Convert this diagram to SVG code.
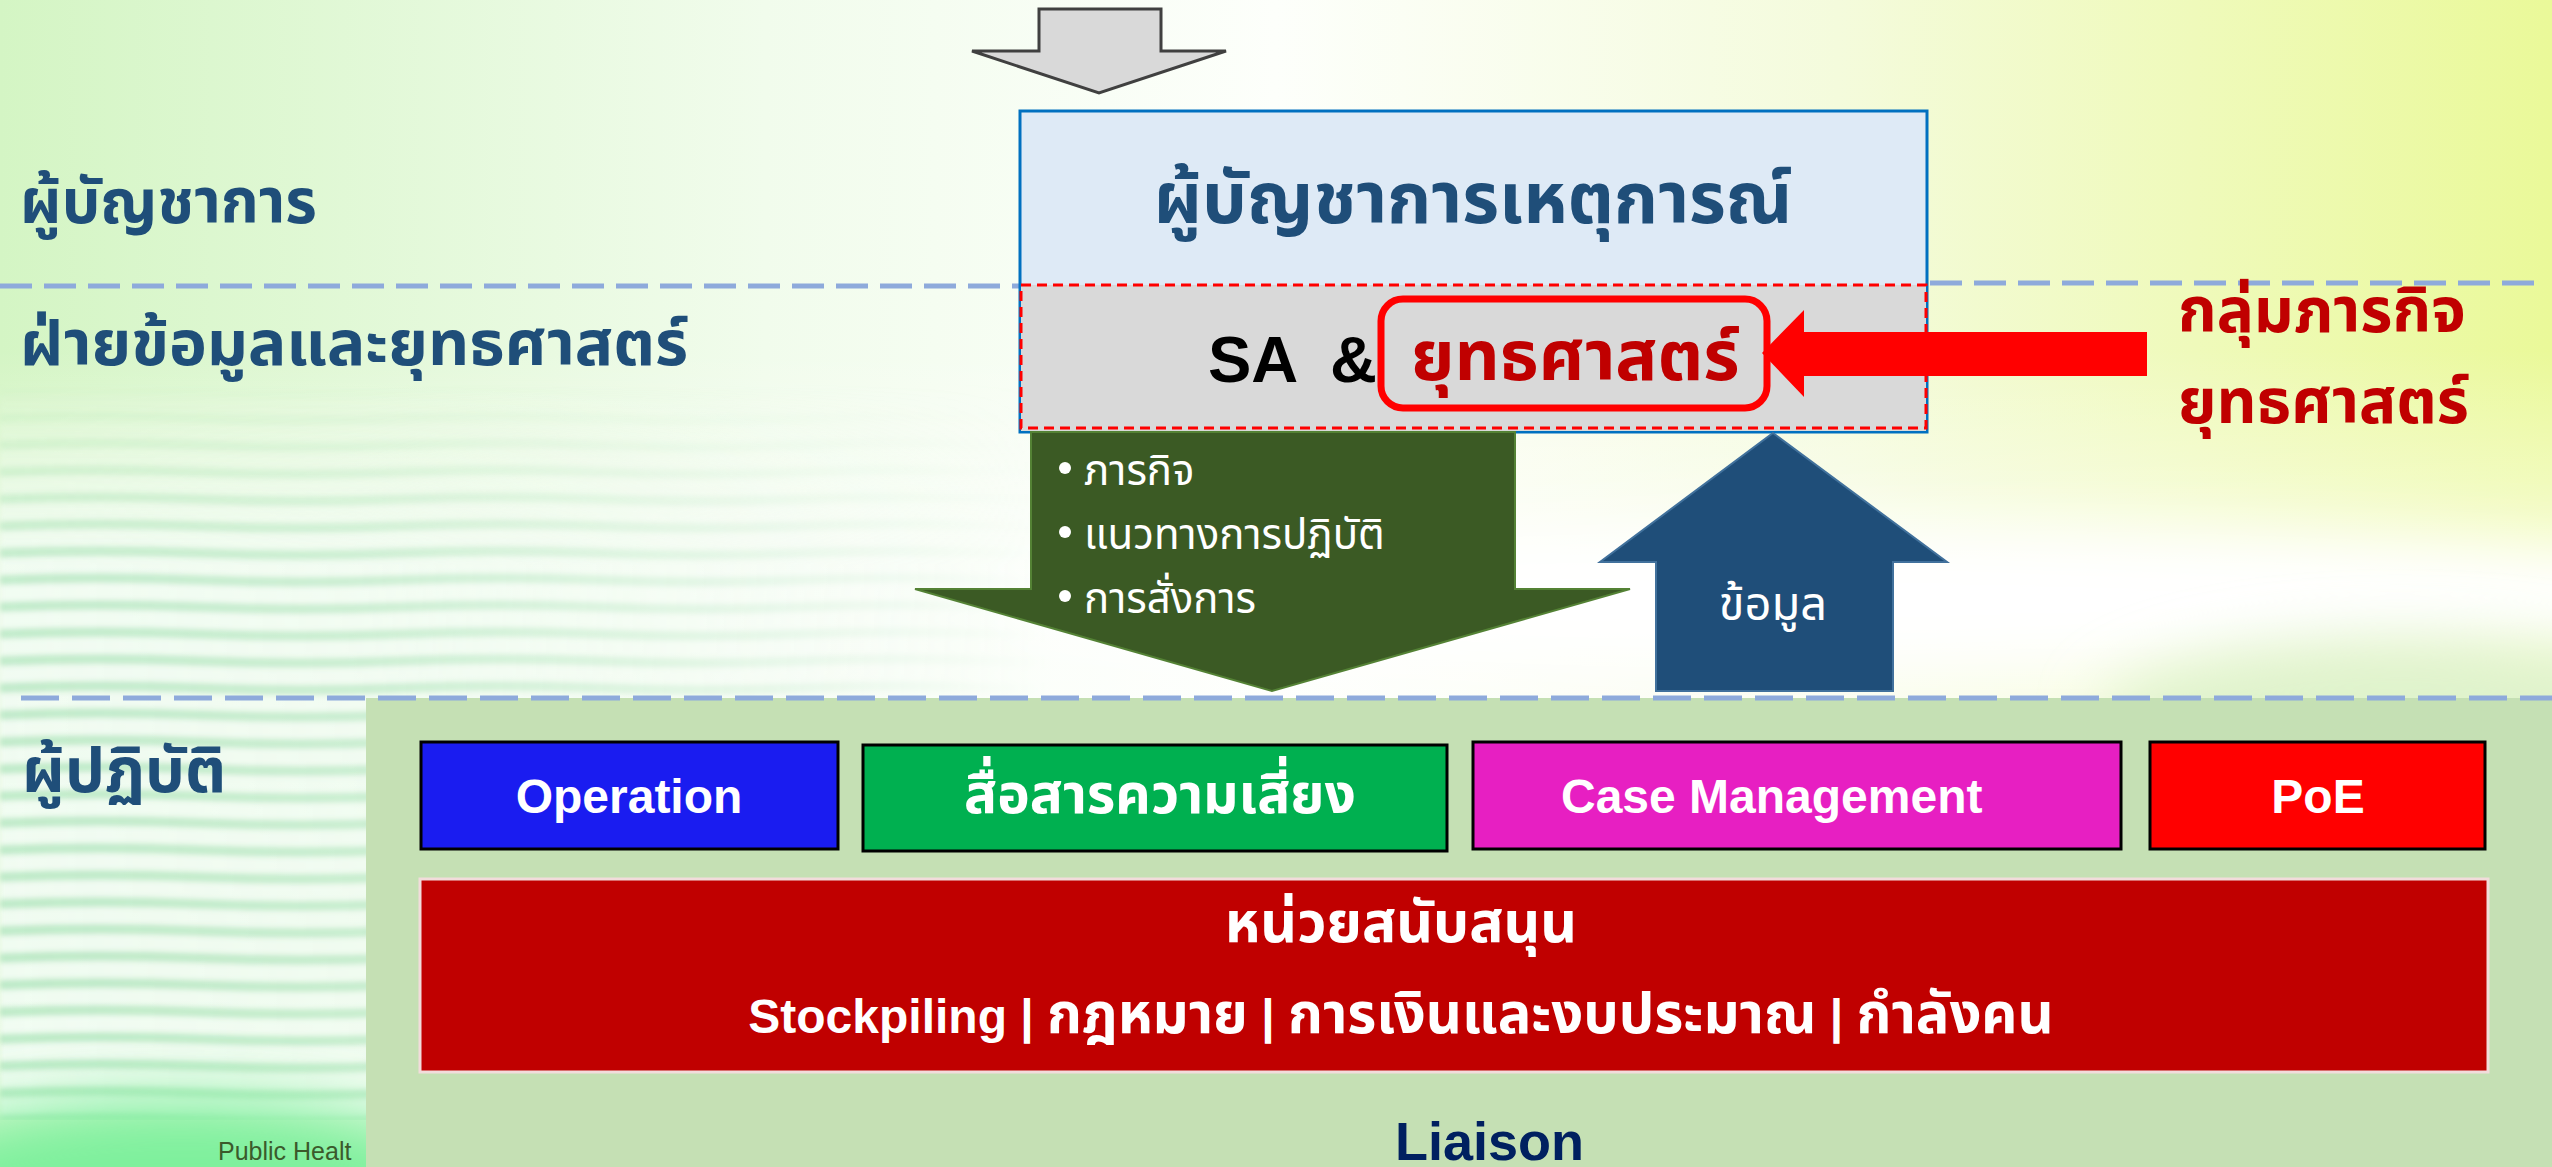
<svg xmlns="http://www.w3.org/2000/svg" width="2552" height="1167" viewBox="0 0 2552 1167">
<defs>
<style>
.th{font-family:"Noto Sans Thai","Noto Sans","Liberation Sans",sans-serif;}
.lat{font-family:"Liberation Sans","Noto Sans Thai",sans-serif;font-weight:bold;}
.lbl{font-weight:bold;fill:#1F4E79;font-size:63px;}
.box{stroke:#000;stroke-width:3;}
.wt{fill:#fff;}
.dash1{stroke:#8EAADB;stroke-width:5;stroke-dasharray:32 12;fill:none;}
.dash2{stroke:#8EAADB;stroke-width:5;stroke-dasharray:38 13;fill:none;}
</style>
<linearGradient id="bgH" x1="0" y1="0" x2="1" y2="0">
<stop offset="0" stop-color="#d4f5c4"/>
<stop offset="0.3" stop-color="#f1fcec"/>
<stop offset="0.5" stop-color="#fdfffb"/>
<stop offset="0.72" stop-color="#f4fbdc"/>
<stop offset="1" stop-color="#eaf999"/>
</linearGradient>
<linearGradient id="bgV" x1="0" y1="0" x2="0" y2="1">
<stop offset="0" stop-color="#fff" stop-opacity="0"/>
<stop offset="0.3" stop-color="#fff" stop-opacity="0"/>
<stop offset="0.5" stop-color="#fff" stop-opacity="0.6"/>
<stop offset="1" stop-color="#fff" stop-opacity="0.3"/>
</linearGradient>
<linearGradient id="fadeHg" x1="0" y1="0" x2="1" y2="0">
<stop offset="0" stop-color="#fff"/>
<stop offset="0.35" stop-color="#fff" stop-opacity="0.8"/>
<stop offset="1" stop-color="#fff" stop-opacity="0"/>
</linearGradient>
<linearGradient id="fadeVg" x1="0" y1="0" x2="0" y2="1">
<stop offset="0" stop-color="#fff" stop-opacity="0"/>
<stop offset="0.25" stop-color="#fff" stop-opacity="0.9"/>
<stop offset="1" stop-color="#fff"/>
</linearGradient>
<mask id="fadeH" maskUnits="userSpaceOnUse" x="0" y="0" width="2552" height="1167">
<rect x="0" y="380" width="1050" height="740" fill="url(#fadeHg)"/>
</mask>
<mask id="fadeV" maskUnits="userSpaceOnUse" x="0" y="0" width="2552" height="1167">
<rect x="0" y="380" width="1050" height="740" fill="url(#fadeVg)"/>
</mask>
<pattern id="stripes" x="0" y="0" width="400" height="27" patternUnits="userSpaceOnUse">
<rect x="0" y="0" width="400" height="27" fill="#f2fcf4"/>
<path d="M0,13 Q100,9 200,13 T400,13" stroke="#b9e8c6" stroke-width="10" fill="none"/>
</pattern>
<filter id="blur" x="-20%" y="-50%" width="140%" height="200%"><feGaussianBlur stdDeviation="30"/></filter>
<filter id="blur2"><feGaussianBlur stdDeviation="2.5"/></filter>
</defs>

<g id="background">
<rect x="0" y="0" width="2552" height="1167" fill="url(#bgH)"/>
<rect x="0" y="0" width="2552" height="1167" fill="url(#bgV)"/>
<ellipse cx="1900" cy="600" rx="900" ry="70" fill="#ffffff" filter="url(#blur)"/>
<ellipse cx="2400" cy="720" rx="300" ry="80" fill="#dff3cc" filter="url(#blur)"/>
<g mask="url(#fadeH)"><g mask="url(#fadeV)">
<rect x="0" y="380" width="1050" height="740" fill="url(#stripes)" filter="url(#blur2)" opacity="0.9"/>
</g></g>
<ellipse cx="180" cy="1180" rx="280" ry="80" fill="#7ef09c" filter="url(#blur)"/>
</g>

<g id="dividers">
<line class="dash1" x1="0" y1="286" x2="1020" y2="286"/>
<line class="dash1" x1="1930" y1="283" x2="2545" y2="283"/>
</g>

<g id="footer-text">
<text x="218" y="1160" font-family="Liberation Sans, sans-serif" font-size="25" fill="#3b5a2b">Public Healt</text>
</g>

<g id="operations-panel">
<rect x="366" y="698" width="2186" height="469" fill="#C5E0B4"/>
</g>
<line class="dash2" x1="21" y1="698" x2="2552" y2="698"/>

<g id="labels">
<text class="lbl th" x="20" y="223" textLength="297" lengthAdjust="spacingAndGlyphs">ผู้บัญชาการ</text>
<text class="lbl th" x="20" y="365" textLength="668" lengthAdjust="spacingAndGlyphs">ฝ่ายข้อมูลและยุทธศาสตร์</text>
<text class="lbl th" x="22" y="792">ผู้ปฏิบัติ</text>
</g>

<g id="input-arrow">
<polygon points="1039,9 1161,9 1161,51 1226,51 1099,93 972,51 1039,51" fill="#D9D9D9" stroke="#404040" stroke-width="3"/>
</g>

<g id="commander">
<rect x="1020" y="111" width="907" height="321" fill="#DEEAF6" stroke="#0070C0" stroke-width="3"/>
<text class="th" x="1473" y="223" text-anchor="middle" font-size="71" font-weight="bold" fill="#1F4E79">ผู้บัญชาการเหตุการณ์</text>
</g>

<g id="sa-strategy">
<rect x="1021" y="285" width="905" height="146" fill="#D9D9D9"/>
<rect x="1021" y="285" width="905" height="143" fill="none" stroke="#FF0000" stroke-width="3" stroke-dasharray="10 6"/>
<text class="lat" x="1208" y="382" font-size="65" fill="#000">SA</text>
<text class="lat" x="1330" y="382" font-size="65" fill="#000">&amp;</text>
<rect x="1381" y="299" width="386" height="109" rx="22" fill="none" stroke="#FF0000" stroke-width="7"/>
<text class="th" x="1411" y="380" font-size="70" font-weight="bold" fill="#C00000">ยุทธศาสตร์</text>
</g>

<g id="strategy-group">
<text class="th" x="2178" y="332" font-size="62" font-weight="bold" fill="#C00000">กลุ่มภารกิจ</text>
<text class="th" x="2178" y="423" font-size="62" font-weight="bold" fill="#C00000">ยุทธศาสตร์</text>
</g>

<g id="connectors">
<polygon points="1762,353 1804,310 1804,332 2147,332 2147,376 1804,376 1804,397" fill="#FF0000"/>
<polygon id="directive-arrow" points="1031,432 1515,432 1515,589 1630,589 1272,691 915,589 1031,589" fill="#3B5A24" stroke="#548235" stroke-width="2"/>
<polygon id="info-arrow" points="1773,433 1947,562 1893,562 1893,691 1656,691 1656,562 1600,562" fill="#1F4E79" stroke="#41719C" stroke-width="2"/>
</g>

<g id="directive-text">
<circle cx="1065" cy="468" r="6" fill="#fff"/>
<circle cx="1065" cy="532" r="6" fill="#fff"/>
<circle cx="1065" cy="596" r="6" fill="#fff"/>
<text class="th wt" x="1084" y="485" font-size="42">ภารกิจ</text>
<text class="th wt" x="1084" y="549" font-size="42">แนวทางการปฏิบัติ</text>
<text class="th wt" x="1084" y="613" font-size="42">การสั่งการ</text>
</g>

<g id="info-text">
<text class="th wt" x="1773" y="620" text-anchor="middle" font-size="47">ข้อมูล</text>
</g>

<g id="operation">
<rect class="box" x="421" y="742" width="417" height="107" fill="#1A1CF0"/>
<text class="lat wt" x="629" y="813" text-anchor="middle" font-size="48">Operation</text>
</g>
<g id="risk-communication">
<rect class="box" x="863" y="745" width="584" height="106" fill="#00B050"/>
<text class="th wt" x="1160" y="813" text-anchor="middle" font-size="55" font-weight="bold">สื่อสารความเสี่ยง</text>
</g>
<g id="case-management">
<rect class="box" x="1473" y="742" width="648" height="107" fill="#E71FC2"/>
<text class="lat wt" x="1561" y="813" font-size="48">Case Management</text>
</g>
<g id="poe">
<rect class="box" x="2150" y="742" width="335" height="107" fill="#FF0000"/>
<text class="lat wt" x="2318" y="813" text-anchor="middle" font-size="48">PoE</text>
</g>
<g id="support-units">
<rect x="420" y="879" width="2068" height="193" fill="#C00000" stroke="#F2DCDB" stroke-width="3"/>
<text class="th wt" x="1401" y="942" text-anchor="middle" font-size="57" font-weight="bold">หน่วยสนับสนุน</text>
<text class="lat wt" x="1401" y="1033" text-anchor="middle" font-size="48">Stockpiling | <tspan font-size="56">กฎหมาย</tspan> | <tspan font-size="56">การเงินและงบประมาณ</tspan> | <tspan font-size="56">กำลังคน</tspan></text>
</g>
<g id="liaison">
<text class="lat" x="1395" y="1160" font-size="54" fill="#002060">Liaison</text>
</g>
</svg>
